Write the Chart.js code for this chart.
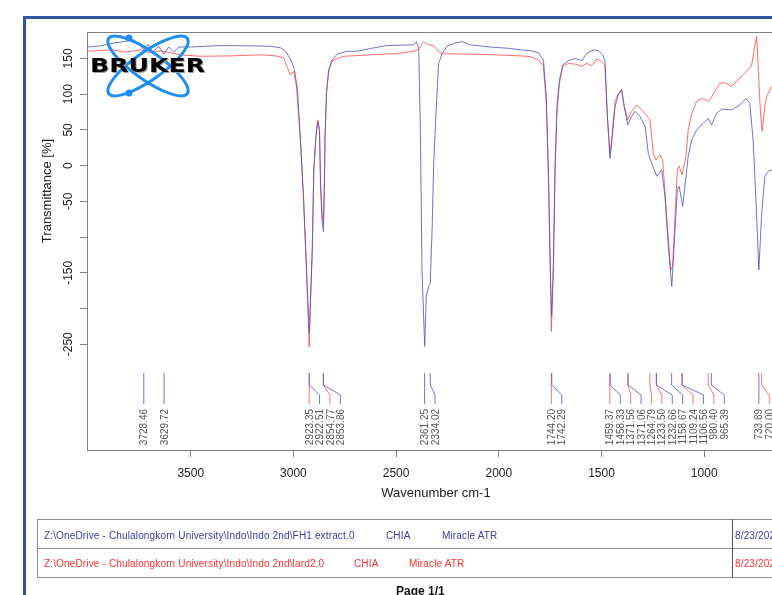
<!DOCTYPE html>
<html>
<head>
<meta charset="utf-8">
<script src="https://cdn.jsdelivr.net/npm/chart.js@4.4.1/dist/chart.umd.min.js"></script>
<style>
  html, body { margin: 0; padding: 0; overflow: hidden; background: #fff; }
  body { width: 772px; height: 595px; position: relative; font-family: "Liberation Sans", Arial, sans-serif; }
  #frame { position: absolute; left: 23px; top: 16px; width: 900px; height: 700px;
           border-left: 3px solid #3557a3; border-top: 3px solid #3557a3; }
  #spec { position: absolute; left: 0; top: 0; }
  #logo { position: absolute; left: 0; top: 0; pointer-events: none; }
  .tbl { position: absolute; left: 37px; width: 800px; height: 30px; box-sizing: border-box;
         border: 1px solid #8c8c8c; }
  .cell { position: absolute; font-size: 10px; line-height: 12px; white-space: nowrap; letter-spacing: 0.15px; }
  .b { color: #3a3aa2; }
  .r { color: #ff3030; }
  .sep { position: absolute; left: 732px; width: 1px; background: #555; }
  #page { position: absolute; left: 396px; top: 584px; font-size: 12px; font-weight: bold; color: #111; }
</style>
</head>
<body>
<div id="frame"></div>
<canvas id="spec" width="772" height="510"></canvas>
<svg id="logo" width="772" height="595">
  <ellipse cx="148" cy="66" rx="48" ry="14" transform="rotate(35 148 66)" fill="none" stroke="#1e8ff0" stroke-width="3"/>
  <ellipse cx="148" cy="66" rx="48" ry="14" transform="rotate(-35 148 66)" fill="none" stroke="#1e8ff0" stroke-width="3"/>
  <circle cx="129" cy="38" r="3.5" fill="#1e8ff0"/>
  <circle cx="129" cy="93" r="3.5" fill="#1e8ff0"/>
  <text x="91" y="73" font-family="DejaVu Sans" font-weight="bold" font-size="19" fill="#999" textLength="115" lengthAdjust="spacingAndGlyphs">BRUKER</text>
  <text x="90" y="72" font-family="DejaVu Sans" font-weight="bold" font-size="19" fill="#000" textLength="115" lengthAdjust="spacingAndGlyphs">BRUKER</text>
</svg>

<div class="tbl" style="top:519px"></div>
<div class="tbl" style="top:548px"></div>
<div class="sep" style="top:519px; height:58px"></div>
<div class="cell b" style="left:44px; top:530px">Z:\OneDrive - Chulalongkorn University\Indo\Indo 2nd\FH1 extract.0</div>
<div class="cell b" style="left:386px; top:530px">CHIA</div>
<div class="cell b" style="left:442px; top:530px">Miracle ATR</div>
<div class="cell b" style="left:735px; top:530px">8/23/2023</div>
<div class="cell r" style="left:44px; top:558px">Z:\OneDrive - Chulalongkorn University\Indo\Indo 2nd\lard2.0</div>
<div class="cell r" style="left:354px; top:558px">CHIA</div>
<div class="cell r" style="left:409px; top:558px">Miracle ATR</div>
<div class="cell r" style="left:735px; top:558px">8/23/2023</div>
<div id="page">Page 1/1</div>

<script>
// FH1 extract.0 (blue)
const blueWn = [4005, 3937, 3903, 3865, 3816, 3777, 3753, 3728, 3709, 3685, 3656, 3630, 3607, 3583, 3558,
  3500, 3354, 3208, 3111, 3063, 3038, 3019, 3004, 2995, 2980, 2965, 2951, 2936, 2923, 2917, 2908, 2901,
  2892, 2884, 2881, 2873, 2868, 2860, 2854, 2850, 2846, 2839, 2828, 2811, 2787, 2738, 2690, 2625, 2544,
  2415, 2401, 2390, 2382, 2374, 2361, 2353, 2342, 2334, 2325, 2317, 2306, 2293, 2276, 2252, 2220, 2179,
  2155, 2139, 2042, 1944, 1896, 1847, 1807, 1783, 1769, 1758, 1750, 1743, 1734, 1726, 1717, 1705, 1688,
  1661, 1628, 1596, 1572, 1540, 1515, 1494, 1483, 1472, 1459, 1449, 1434, 1418, 1402, 1390, 1372, 1353,
  1337, 1313, 1288, 1272, 1256, 1231, 1207, 1191, 1175, 1158, 1142, 1131, 1122, 1105, 1094, 1078, 1061,
  1037, 1005, 981, 964, 940, 915, 867, 826, 797, 778, 762, 749, 734, 721, 705, 689, 670];
const blueT = [166, 167.6, 170, 172, 174, 176, 170, 162, 170, 159, 167, 156, 166, 159, 166,
  166, 168, 167.6, 167, 165, 160, 151, 142, 134, 106, 32, -43, -146, -234, -188, -113, -6,
  36, 57, 61.6, 50, -29, -80, -92, -43, 40, 102, 134, 148, 156, 160, 160, 164, 168,
  169, 173.6, 164, 50, -146, -253, -183, -169, -165, -90, 3, 73, 143, 157, 167, 171, 173.6,
  171, 169, 166, 164, 162, 161, 158, 148, 97, -20, -137, -211, -137, 3, 83, 120, 141,
  147, 150, 147, 157, 162, 161, 155, 146, 73, 10, 36, 83, 99, 106, 83, 57, 69,
  76, 69, 55, 17, 3, -15, -6, -43, -113, -169, -90, -34, -29, -57, -29, 13, 36,
  50, 59, 66, 57, 73, 79, 78, 85, 94, 87, 36, -43, -146, -71, -15, -8, -6];

// lard2.0 (red)
const redWn = [4005, 3889, 3816, 3743, 3700, 3646, 3549, 3451, 3306, 3160, 3087, 3048, 3029, 3014, 2998,
  2985, 2965, 2951, 2936, 2923, 2917, 2908, 2901, 2892, 2884, 2881, 2873, 2868, 2860, 2854, 2850, 2846,
  2839, 2828, 2811, 2787, 2755, 2625, 2495, 2415, 2390, 2366, 2342, 2317, 2293, 2276, 2220, 2139, 2017,
  1896, 1847, 1807, 1783, 1769, 1758, 1750, 1744, 1734, 1726, 1717, 1705, 1688, 1661, 1628, 1596, 1572,
  1547, 1523, 1507, 1491, 1483, 1472, 1459, 1449, 1434, 1418, 1402, 1389, 1372, 1353, 1329, 1304, 1283,
  1264, 1248, 1234, 1215, 1202, 1183, 1163, 1154, 1142, 1131, 1122, 1108, 1089, 1078, 1061, 1037, 1008,
  980, 972, 948, 924, 899, 867, 835, 794, 770, 757, 745, 738, 726, 718, 705, 694, 670];
const redT = [160, 162, 159, 162, 158, 160.6, 155, 153, 153.6, 155, 153.6, 151, 137, 127, 132,
  110, 30, -45, -150, -254, -190, -120, -10, 35, 60, 64, 48, -20, -70, -81, -35, 40,
  101, 134, 146, 150, 153, 155, 157, 160, 163, 173.6, 169, 168, 160, 156.4, 156.4, 156, 155,
  153.6, 152.7, 148, 138.7, 87, -11, -137, -232, -137, -6, 73, 115, 139, 143, 142, 139, 143,
  140, 149, 147, 143, 139, 69, 17, 41, 90, 101, 107, 83, 64, 76, 85, 78, 71,
  64, 17, 8, 15, 8, -71, -146, -141, -71, -6, -1, -13, 13, 50, 73, 90, 94,
  90, 92, 104, 115, 116, 111, 120, 132, 139, 162, 181, 143, 73, 48, 83, 99, 111];

// peak picks: wavenumber and which spectrum they belong to
const peakWn = [3728.46, 3629.72, 2923.35, 2922.51, 2854.77, 2853.86, 2361.25, 2334.02, 1744.20, 1742.29,
  1459.37, 1458.33, 1371.56, 1371.06, 1264.79, 1233.50, 1232.66, 1158.67, 1109.24, 1106.56,
  980.40, 965.39, 733.89, 720.00];
const peakSeries = ['b', 'b', 'r', 'b', 'r', 'b', 'b', 'b', 'r', 'b',
  'r', 'b', 'r', 'b', 'r', 'r', 'b', 'b', 'r', 'b',
  'r', 'b', 'b', 'r'];

const xTicks = [3500, 3000, 2500, 2000, 1500, 1000];
const yTicks = [-250, -200, -150, -100, -50, 0, 50, 100, 150];
const yTickLabels = ['-250', '', '-150', '', '-50', '0', '50', '100', '150'];

const FONT = '"Liberation Sans", Arial, sans-serif';
const lineCol = { b: 'rgba(90,90,195,0.85)', r: 'rgba(255,90,90,0.85)' };

const extras = {
    id: 'extras',
    afterDraw(chart) {
        const ctx = chart.ctx;
        const a = chart.chartArea;
        const xs = chart.scales.x, ys = chart.scales.y;
        ctx.save();
        // frame top
        ctx.strokeStyle = '#808080';
        ctx.lineWidth = 1;
        ctx.beginPath();
        ctx.moveTo(a.left, a.top + 0.5);
        ctx.lineTo(a.right, a.top + 0.5);
        ctx.stroke();

        // y tick labels, rotated
        ctx.fillStyle = '#222';
        ctx.font = '12px ' + FONT;
        ctx.textAlign = 'center';
        ctx.textBaseline = 'alphabetic';
        yTicks.forEach((v, i) => {
            if (!yTickLabels[i]) return;
            ctx.save();
            ctx.translate(72, ys.getPixelForValue(v));
            ctx.rotate(-Math.PI / 2);
            ctx.fillText(yTickLabels[i], 0, 0);
            ctx.restore();
        });

        // axis titles
        ctx.font = '13px ' + FONT;
        ctx.save();
        ctx.translate(51, 191);
        ctx.rotate(-Math.PI / 2);
        ctx.fillText('Transmittance [%]', 0, 0);
        ctx.restore();
        ctx.textBaseline = 'middle';
        ctx.fillText('Wavenumber cm-1', 436, 493);

        // peak labels
        const items = peakWn.map((w, i) => ({ w: w, s: peakSeries[i], px: xs.getPixelForValue(w) }))
            .sort((p, q) => p.px - q.px);
        let last = -1e9;
        items.forEach(it => { it.lx = Math.max(it.px, last + 10.4); last = it.lx; });
        ['r', 'b'].forEach(s => {
            ctx.strokeStyle = lineCol[s];
            items.filter(it => it.s === s).forEach(it => {
                ctx.beginPath();
                ctx.moveTo(it.px, 373);
                ctx.lineTo(it.px, 385);
                ctx.lineTo(it.lx, 395);
                ctx.lineTo(it.lx, 404);
                ctx.stroke();
            });
        });
        ctx.fillStyle = '#555';
        ctx.font = '10px ' + FONT;
        ctx.textAlign = 'right';
        ctx.textBaseline = 'alphabetic';
        items.forEach(it => {
            ctx.save();
            ctx.translate(it.lx + 3.6, 409);
            ctx.rotate(-Math.PI / 2);
            ctx.fillText(it.w.toFixed(2), 0, 0);
            ctx.restore();
        });
        ctx.restore();
    }
};

const chart = new Chart(document.getElementById('spec'), {
    type: 'line',
    data: {
        datasets: [
            {
                label: 'FH1 extract.0',
                data: blueWn.map((w, i) => ({ x: w, y: blueT[i] })),
                borderColor: 'rgba(80,80,190,0.8)',
                borderWidth: 1,
                pointRadius: 0,
                tension: 0,
            },
            {
                label: 'lard2.0',
                data: redWn.map((w, i) => ({ x: w, y: redT[i] })),
                borderColor: 'rgba(255,70,70,0.8)',
                borderWidth: 1,
                pointRadius: 0,
                tension: 0,
            },
        ],
    },
    options: {
        responsive: false,
        animation: false,
        layout: { padding: { top: 32, left: 0, right: 0, bottom: 0 } },
        plugins: { legend: { display: false }, tooltip: { enabled: false } },
        scales: {
            x: {
                type: 'linear',
                reverse: true,
                min: 670,
                max: 4005,
                afterBuildTicks: s => { s.ticks = xTicks.map(v => ({ value: v })); },
                afterFit: s => { s.height = 60; },
                grid: { drawOnChartArea: false, tickLength: 7, color: '#808080' },
                border: { color: '#808080' },
                ticks: {
                    color: '#222', font: { size: 12, family: FONT }, padding: 9, maxRotation: 0, autoSkip: false,
                    callback: v => String(v),
                },
            },
            y: {
                min: -398,
                max: 187,
                afterBuildTicks: s => { s.ticks = yTicks.map(v => ({ value: v })); },
                afterFit: s => { s.width = 87; },
                grid: { drawOnChartArea: false, tickLength: 7, color: '#808080' },
                border: { color: '#808080' },
                ticks: { display: false },
            },
        },
    },
    plugins: [extras],
});
</script>
</body>
</html>
